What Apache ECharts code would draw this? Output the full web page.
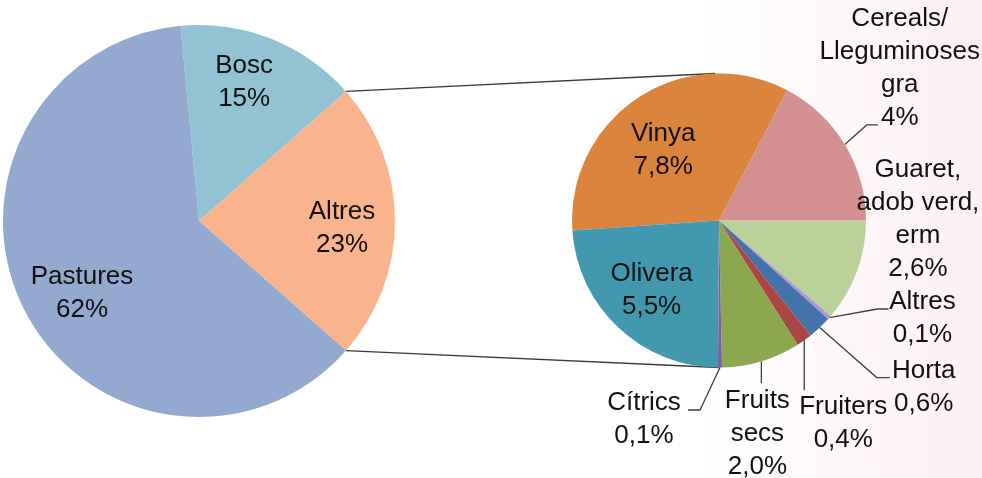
<!DOCTYPE html>
<html>
<head>
<meta charset="utf-8">
<title>Superfície agrària</title>
<script src="https://cdn.jsdelivr.net/npm/echarts@6/dist/echarts.min.js"></script>
<style>
  html, body { margin: 0; padding: 0; background: #fff; }
  #chart { width: 982px; height: 478px; }
</style>
</head>
<body>
<div id="chart"></div>
<script>
// pastís principal
const leftNames = ['Bosc', 'Altres', 'Pastures'];
const leftValues = [15, 23, 62];

// desglossament de "Altres" (segon pastís), en sentit horari des de Vinya
const rightNames = ['Vinya', 'Cereals/\nLleguminoses\ngra', 'Guaret,\nadob verd,\nerm', 'Altres',
  'Horta', 'Fruiters', 'Fruits\nsecs', 'Cítrics', 'Olivera'];
const rightValues = [7.8, 4, 2.6, 0.1, 0.6, 0.4, 2.0, 0.1, 5.5];
const rightDecimals = [1, 0, 1, 1, 1, 1, 1, 1, 1];

// colors
const leftColors = ['#92C3D5', '#F9B48E', '#94A9D0'];
const rightColors = ['#DB843D', '#D29091', '#BAD29A', '#AA9CC9', '#4473AA', '#AA4643', '#8BA74F', '#7F5DA6', '#4298AF'];

// geometria
const leftCenter = [199, 221], leftR = 196;
const rightCenter = [719, 220.5], rightR = 147;

const sum = (a) => a.reduce((s, v) => s + v, 0);
const fmt = (v, d) => v.toFixed(d).replace('.', ',') + '%';

// "Altres" centrat a la dreta del pastís principal
const leftTotal = sum(leftValues);
const leftStart = (leftValues[1] / 2 + leftValues[0]) / leftTotal * 360;
// el segon pastís: Cereals acaba a l'horitzontal dreta
const rightTotal = sum(rightValues);
const rightStart = (rightValues[0] + rightValues[1]) / rightTotal * 360;

// desplaçaments de les etiquetes (px)
const leftShift = [[8, -45], [42, 7], [-27, 26]];
const rightLabelCfg = [
  { shift: [-14, -6] },                                    // Vinya (dins)
  { lead: [[22, -19.5], [33, -19.5]], at: [55, -76] },     // Cereals
  { at: [61, -52] },                                       // Guaret (sense línia)
  { lead: [[48, -8.5], [59, -8.5]], at: [93, 0.5] },       // Altres
  { lead: [[57, 50], [70, 50]], at: [104, 60] },           // Horta
  { lead: [[0, 25], [0, 50]], at: [39, 83] },              // Fruiters
  { lead: [[0, 11], [0, 22]], at: [-4, 73] },              // Fruits secs
  { lead: [[-20, 42.5], [-32, 42.5]], at: [-76, 51.5] },   // Cítrics
  { shift: [-15, 14] }                                     // Olivera (dins)
];

const textStyle = {
  fontFamily: 'Liberation Sans, Arial, sans-serif',
  fontSize: 26,
  lineHeight: 33,
  color: '#111'
};

// línies que uneixen els dos pastissos
const halfA = leftValues[1] / leftTotal * Math.PI;
const lTop = [leftCenter[0] + leftR * Math.cos(halfA), leftCenter[1] - leftR * Math.sin(halfA)];
const lBot = [leftCenter[0] + leftR * Math.cos(halfA), leftCenter[1] + leftR * Math.sin(halfA)];
const rTop = [rightCenter[0] - 4, rightCenter[1] - rightR];
const rBot = [rightCenter[0], rightCenter[1] + rightR];

const chart = echarts.init(document.getElementById('chart'));

const option = {
  animation: false,
  backgroundColor: '#ffffff',
  graphic: [
    {
      type: 'rect',
      z: -10,
      silent: true,
      shape: { x: 700, y: 0, width: 282, height: 478 },
      style: {
        fill: new echarts.graphic.LinearGradient(0, 0, 1, 0, [
          { offset: 0, color: 'rgba(248,222,226,0)' },
          { offset: 0.6, color: 'rgba(248,222,226,0.3)' },
          { offset: 1, color: 'rgba(248,222,226,0.45)' }
        ])
      }
    },
    {
      type: 'polyline',
      silent: true,
      shape: { points: [lTop, rTop] },
      style: { stroke: '#3a3a3a', lineWidth: 1.3 }
    },
    {
      type: 'polyline',
      silent: true,
      shape: { points: [lBot, rBot] },
      style: { stroke: '#3a3a3a', lineWidth: 1.3 }
    }
  ],
  series: [
    {
      type: 'pie',
      center: leftCenter,
      radius: leftR,
      startAngle: leftStart,
      clockwise: true,
      avoidLabelOverlap: false,
      emphasis: { disabled: true },
      itemStyle: { borderWidth: 0 },
      label: Object.assign({
        show: true,
        position: 'inside',
        formatter: (p) => p.name + '\n' + fmt(p.value, 0)
      }, textStyle),
      labelLine: { show: false },
      labelLayout: (p) => {
        const r = p.labelRect, s = leftShift[p.dataIndex];
        return {
          x: r.x + r.width / 2 + s[0],
          y: r.y + r.height / 2 + s[1],
          align: 'center',
          verticalAlign: 'middle'
        };
      },
      data: leftNames.map((n, i) => ({
        name: n,
        value: leftValues[i],
        itemStyle: { color: leftColors[i] }
      }))
    },
    {
      type: 'pie',
      center: rightCenter,
      radius: rightR,
      startAngle: rightStart,
      clockwise: true,
      avoidLabelOverlap: false,
      minShowLabelAngle: 0,
      emphasis: { disabled: true },
      itemStyle: { borderWidth: 0 },
      label: Object.assign({
        show: true,
        position: 'outside',
        formatter: (p) => p.name + '\n' + fmt(p.value, rightDecimals[p.dataIndex])
      }, textStyle),
      labelLine: {
        show: true,
        length: 10,
        length2: 10,
        lineStyle: { color: '#404040', width: 1.3 }
      },
      labelLayout: (p) => {
        const c = rightLabelCfg[p.dataIndex];
        if (c.shift) {
          const r = p.labelRect;
          return {
            x: r.x + r.width / 2 + c.shift[0],
            y: r.y + r.height / 2 + c.shift[1],
            align: 'center',
            verticalAlign: 'middle'
          };
        }
        const p0 = p.labelLinePoints[0];
        const pts = c.lead
          ? [p0, [p0[0] + c.lead[0][0], p0[1] + c.lead[0][1]], [p0[0] + c.lead[1][0], p0[1] + c.lead[1][1]]]
          : [p0, p0, p0];
        return {
          x: p0[0] + c.at[0],
          y: p0[1] + c.at[1],
          align: 'center',
          verticalAlign: 'middle',
          labelLinePoints: pts
        };
      },
      data: rightNames.map((n, i) => ({
        name: n,
        value: rightValues[i],
        itemStyle: { color: rightColors[i] },
        label: rightLabelCfg[i].shift ? { position: 'inside' } : undefined
      }))
    }
  ]
};

chart.setOption(option);
</script>
</body>
</html>
